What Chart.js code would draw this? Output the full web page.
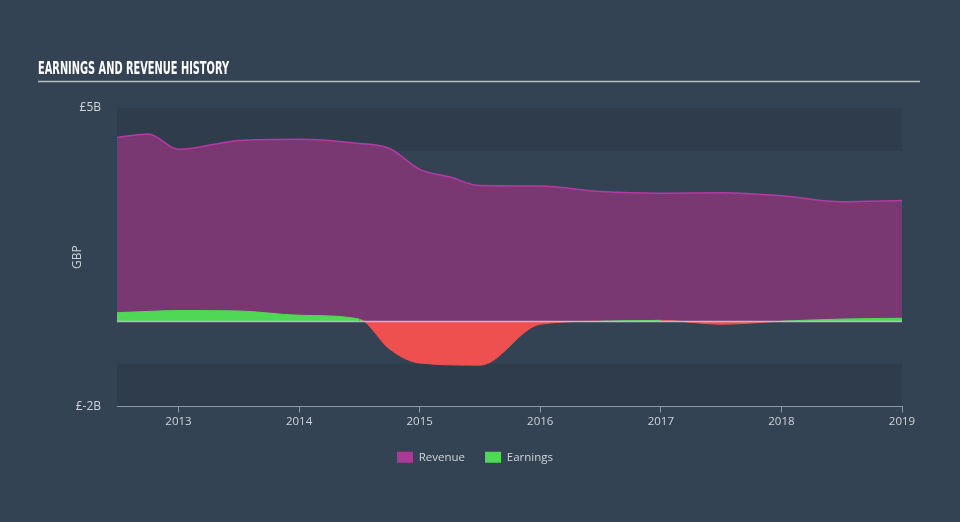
<!DOCTYPE html>
<html>
<head>
<meta charset="utf-8">
<script src="https://cdn.jsdelivr.net/npm/chart.js@4/dist/chart.umd.min.js"></script>
<style>
  html, body { margin: 0; padding: 0; background: #344353; }
  #wrap { width: 960px; height: 522px; position: relative; }
</style>
</head>
<body>
<div id="wrap"><canvas id="chart"></canvas></div>
<script>
// values in GBP billions, dates as decimal years
const revenueDates = [2012.49, 2012.75, 2013.0, 2013.5, 2014.0, 2014.5, 2014.75, 2015.0, 2015.25, 2015.5, 2016.0, 2016.5, 2017.0, 2017.5, 2018.0, 2018.5, 2019.0];
const revenueValues = [4.31, 4.39, 4.03, 4.24, 4.27, 4.17, 4.05, 3.56, 3.38, 3.18, 3.17, 3.04, 3.0, 3.01, 2.94, 2.80, 2.83];

const earningsDates = [2012.49, 2012.75, 2013.0, 2013.5, 2014.0, 2014.5, 2014.75, 2015.0, 2015.5, 2016.0, 2016.5, 2017.0, 2017.5, 2018.0, 2018.5, 2019.0];
const earningsValues = [0.20, 0.23, 0.25, 0.24, 0.14, 0.05, -0.65, -0.98, -1.03, -0.07, 0.0, 0.02, -0.07, 0.0, 0.05, 0.07];

const yearTicks = [2013, 2014, 2015, 2016, 2017, 2018, 2019];
const valueTicks = [-2, 5];

const GREEN = "#4fd856";
const RED = "#ee5050";
const TEXT = "#d0d4d8";

const bgPlugin = {
  id: "bg",
  beforeDraw(chart) {
    const { ctx, chartArea, scales } = chart;
    const y = scales.y;
    ctx.save();
    // title, squeezed to look like the condensed display face
    const title = "EARNINGS AND REVENUE HISTORY";
    ctx.fillStyle = "#ffffff";
    ctx.font = 'bold 18px "Liberation Sans Narrow", "DejaVu Sans Condensed", sans-serif';
    ctx.textBaseline = "alphabetic";
    const w = ctx.measureText(title).width;
    ctx.save();
    ctx.translate(38, 74);
    ctx.scale(191 / w, 1);
    ctx.fillText(title, 0, 0);
    ctx.restore();
    ctx.strokeStyle = "#b9bfc6";
    ctx.lineWidth = 1.5;
    ctx.beginPath();
    ctx.moveTo(38, 81.5);
    ctx.lineTo(920, 81.5);
    ctx.stroke();
    // darker bands at top and bottom of the plot
    ctx.fillStyle = "#2e3c4b";
    ctx.fillRect(chartArea.left, y.getPixelForValue(5), chartArea.width, y.getPixelForValue(4) - y.getPixelForValue(5));
    ctx.fillRect(chartArea.left, y.getPixelForValue(-1), chartArea.width, y.getPixelForValue(-2) - y.getPixelForValue(-1));
    ctx.restore();
  },
  afterDatasetsDraw(chart) {
    const { ctx, chartArea, scales } = chart;
    const y0 = Math.round(scales.y.getPixelForValue(0)) + 0.5;
    ctx.save();
    ctx.strokeStyle = "rgba(200,205,210,0.85)";
    ctx.lineWidth = 1.5;
    ctx.beginPath();
    ctx.moveTo(chartArea.left, y0);
    ctx.lineTo(chartArea.right, y0);
    ctx.stroke();
    ctx.restore();
  }
};

const ctx = document.getElementById("chart").getContext("2d");
const chart = new Chart(ctx, {
  type: "line",
  data: {
    datasets: [
      {
        label: "Earnings",
        data: earningsDates.map((d, i) => ({ x: d, y: earningsValues[i] })),
        borderWidth: 1,
        borderColor: GREEN,
        segment: {
          borderColor: (c) => (c.p0.parsed.y + c.p1.parsed.y) / 2 < 0 ? RED : GREEN
        },
        fill: { target: "origin", above: GREEN, below: RED },
        backgroundColor: GREEN,
        pointRadius: 0,
        cubicInterpolationMode: "monotone",
        order: 1
      },
      {
        label: "Revenue",
        data: revenueDates.map((d, i) => ({ x: d, y: revenueValues[i] })),
        borderWidth: 1.5,
        borderColor: "#b53aa3",
        backgroundColor: "#7a3872",
        fill: "origin",
        pointRadius: 0,
        cubicInterpolationMode: "monotone",
        order: 2
      }
    ]
  },
  options: {
    responsive: true,
    maintainAspectRatio: false,
    animation: false,
    layout: { padding: { top: 108, right: 58, bottom: 49, left: 48 } },
    scales: {
      x: {
        type: "linear",
        min: 2012.49,
        max: 2019.0,
        afterBuildTicks: (s) => { s.ticks = yearTicks.map(v => ({ value: v })); },
        afterFit: (s) => { s.height = 25; },
        grid: { drawOnChartArea: false, drawTicks: true, tickLength: 6, color: "#8d99a6" },
        border: { display: true, color: "#8d99a6", width: 1 },
        ticks: {
          color: TEXT,
          font: { family: "'Open Sans', sans-serif", size: 11.5 },
          padding: 2,
          maxRotation: 0,
          callback: (v) => String(v)
        }
      },
      y: {
        min: -2,
        max: 5,
        afterBuildTicks: (s) => { s.ticks = valueTicks.map(v => ({ value: v })); },
        afterFit: (s) => { s.width = 69; },
        grid: { display: false },
        border: { display: false },
        ticks: {
          color: TEXT,
          font: { family: "'Open Sans', sans-serif", size: 12 },
          padding: 8,
          callback: (v) => "£" + v + "B"
        },
        title: {
          display: true,
          text: "GBP",
          color: TEXT,
          font: { family: "'Open Sans', sans-serif", size: 12 },
          padding: { top: 22, bottom: 0 }
        }
      }
    },
    plugins: {
      legend: {
        position: "bottom",
        labels: {
          color: TEXT,
          font: { family: "'Open Sans', sans-serif", size: 11.5 },
          boxWidth: 16,
          boxHeight: 11,
          padding: 20,
          generateLabels: (c) => [
            { text: "Revenue", fillStyle: "#a93a96", strokeStyle: "#a93a96", lineWidth: 0, fontColor: TEXT, datasetIndex: 1 },
            { text: "Earnings", fillStyle: GREEN, strokeStyle: GREEN, lineWidth: 0, fontColor: TEXT, datasetIndex: 0 }
          ]
        }
      },
      tooltip: { enabled: false }
    }
  },
  plugins: [bgPlugin]
});
</script>
</body>
</html>
